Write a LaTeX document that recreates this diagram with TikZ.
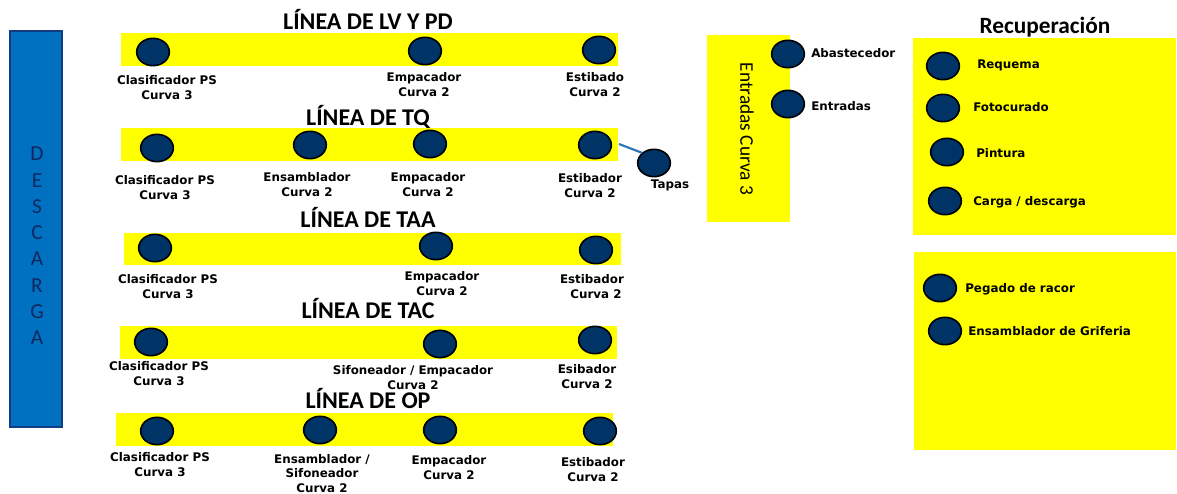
\documentclass[tikz,border=0pt]{standalone}
\usepackage{fontspec}
\setmainfont{DejaVu Sans}
\newfontfamily\calib{Carlito}
\usetikzlibrary{shapes.geometric}
\definecolor{ybar}{RGB}{255,255,0}
\definecolor{bluebar}{RGB}{0,112,192}
\definecolor{blueedge}{RGB}{20,60,130}
\definecolor{navy}{RGB}{0,51,102}
\definecolor{lettr}{RGB}{16,40,96}
\definecolor{linkc}{RGB}{46,117,182}
\tikzset{
  st/.style={ellipse, fill=navy, draw=black, line width=1.2pt, minimum width=24.5pt, minimum height=20.5pt, inner sep=0pt},
  lbl/.style={font=\bfseries\fontsize{8.9}{11.2}\selectfont, align=center, inner sep=0pt, anchor=north},
  rlbl/.style={font=\bfseries\fontsize{8.9}{11}\selectfont, anchor=west, inner sep=0pt},
  ttl/.style={font=\calib\bfseries\fontsize{18}{20}\selectfont, inner sep=0pt, anchor=base},
  ybox/.style={fill=ybar},
}
\begin{document}
\begin{tikzpicture}[x=0.75pt,y=-0.75pt]
\useasboundingbox (0,0) rectangle (1177,493);

% DESCARGA
\fill[bluebar, draw=blueedge, line width=1.2pt] (10,31) rectangle (62,427);
\node[font=\calib\fontsize{16}{19.7}\selectfont, text=lettr, align=center, inner sep=0pt] (descarga) at (37,246)
  {D\\E\\S\\C\\A\\R\\G\\A};

% Row 1
\node[ttl] (t1) at (368,29) {LÍNEA DE LV Y PD};
\fill[ybox] (121,33) rectangle (618,66);
\node[st] (r1a) at (153,52) {};
\node[st] (r1b) at (425,51) {};
\node[st] (r1c) at (599,50) {};
\node[lbl] (l1a) at (167,75) {Clasificador PS\\Curva 3};
\node[lbl] (l1b) at (424,72) {Empacador\\Curva 2};
\node[lbl] (l1c) at (595,72) {Estibado\\Curva 2};

% Row 2
\node[ttl] (t2) at (368,125) {LÍNEA DE TQ};
\fill[ybox] (121,128) rectangle (618,161);
\coordinate (b2e) at (619,144);
\node[st] (r2a) at (157,148) {};
\node[st] (r2b) at (310,145) {};
\node[st] (r2c) at (430,144) {};
\node[st] (r2d) at (595,145) {};
\node[st] (tapas) at (654,163) {};
\draw[linkc, line width=1.6pt] (b2e) -- (tapas.north west);
\node[lbl] (l2a) at (165,175) {Clasificador PS\\Curva 3};
\node[lbl] (l2b) at (307,172) {Ensamblador\\Curva 2};
\node[lbl] (l2c) at (428,172) {Empacador\\Curva 2};
\node[lbl] (l2d) at (590,173) {Estibador\\Curva 2};
\node[lbl, anchor=center] (ltapas) at (670,185) {Tapas};

% Row 3
\node[ttl] (t3) at (368,227) {LÍNEA DE TAA};
\fill[ybox] (124,233) rectangle (621,265);
\node[st] (r3a) at (155,248) {};
\node[st] (r3b) at (436,246) {};
\node[st] (r3c) at (596,250) {};
\node[lbl] (l3a) at (168,274) {Clasificador PS\\Curva 3};
\node[lbl] (l3b) at (442,271) {Empacador\\Curva 2};
\node[lbl] (l3c) at (592,274) {Estibador\\\hspace*{6pt}Curva 2};

% Row 4
\node[ttl] (t4) at (368,318) {LÍNEA DE TAC};
\fill[ybox] (120,326) rectangle (617,359);
\node[st] (r4a) at (151,342) {};
\node[st] (r4b) at (440,344) {};
\node[st] (r4c) at (595,340) {};
\node[lbl] (l4a) at (159,361) {Clasificador PS\\Curva 3};
\node[lbl] (l4b) at (413,365) {Sifoneador / Empacador\\Curva 2};
\node[lbl] (l4c) at (587,364) {Esibador\\Curva 2};

% Row 5
\node[ttl] (t5) at (368,408) {LÍNEA DE OP};
\fill[ybox] (116,413) rectangle (613,446);
\node[st] (r5a) at (157,431) {};
\node[st] (r5b) at (320,430) {};
\node[st] (r5c) at (440,430) {};
\node[st] (r5d) at (600,431) {};
\node[lbl] (l5a) at (160,452) {Clasificador PS\\Curva 3};
\node[lbl, font=\bfseries\fontsize{8.9}{10.8}\selectfont] (l5b) at (322,454) {Ensamblador /\\Sifoneador\\Curva 2};
\node[lbl] (l5c) at (449,455) {Empacador\\Curva 2};
\node[lbl] (l5d) at (593,457) {Estibador\\Curva 2};

% Entradas
\fill[ybox] (707,35) rectangle (790,222);
\node[font=\calib\fontsize{14.5}{16}\selectfont, rotate=-90, inner sep=0pt] (entc) at (747,129) {Entradas Curva 3};
\node[st] (abas) at (788,54) {};
\node[st] (entr) at (788,104) {};
\node[rlbl] (labas) at (811,53) {Abastecedor};
\node[rlbl] (lentr) at (811,106) {Entradas};

% Recuperacion
\node[ttl, font=\calib\bfseries\fontsize{17.5}{20}\selectfont] (trec) at (1045,33) {Recuperación};
\fill[ybox] (913,38) rectangle (1176,235);
\node[st] (req) at (943,66) {};
\node[st] (foto) at (943,108) {};
\node[st] (pint) at (947,152) {};
\node[st] (carg) at (945,201) {};
\node[rlbl] (lreq) at (977,65) {Requema};
\node[rlbl] (lfoto) at (973,107) {Fotocurado};
\node[rlbl] (lpint) at (976,153) {Pintura};
\node[rlbl] (lcarg) at (973,202) {Carga / descarga};

% Second box
\fill[ybox] (914,252) rectangle (1176,450);
\node[st] (peg) at (940,288) {};
\node[st] (ensg) at (945,331) {};
\node[rlbl] (lpeg) at (965,289) {Pegado de racor};
\node[rlbl] (lensg) at (968,331) {Ensamblador de Griferia};
\end{tikzpicture}
\end{document}
